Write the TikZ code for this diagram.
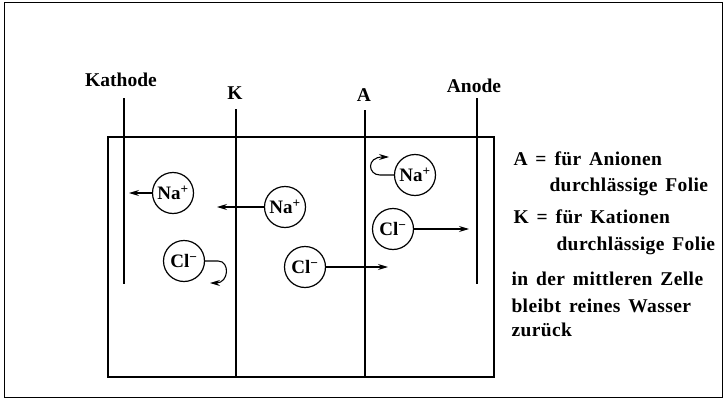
\documentclass[tikz,border=0pt]{standalone}
\usepackage{fontspec}
\setmainfont{Liberation Serif}
\newfontfamily\legendfont[LetterSpace=2,WordSpace=1.5]{Liberation Serif}
\usetikzlibrary{arrows.meta}
\begin{document}
\begin{tikzpicture}[x=1pt,y=-1pt,
  line/.style={line width=1.1pt},
  ion/.style={circle,draw,line width=1.2pt,minimum size=41pt,inner sep=0pt,font=\fontsize{19}{19}\selectfont\bfseries},
  arr/.style={line width=1.1pt,-{Stealth[length=10pt,width=6pt]}},
  lbl/.style={font=\fontsize{19.5}{19.5}\selectfont\bfseries},
  txt/.style={anchor=base west,font=\legendfont\fontsize{19.5}{19.5}\selectfont\bfseries}]
\useasboundingbox (0,0) rectangle (724,399);
\draw[line width=0.8pt] (4,2) rectangle (722,397);
% inner box
\draw[line] (108,137) rectangle (494,377);
% electrodes and membranes
\coordinate (kt) at (124,98);  \coordinate (kb) at (124,284);
\coordinate (at) at (477,98); \coordinate (ab) at (477,284);
\coordinate (mkt) at (236,109); \coordinate (mkb) at (236,377);
\coordinate (mat) at (365,110); \coordinate (mab) at (365,377);
\draw[line] (kt) -- (kb);
\draw[line] (at) -- (ab);
\draw[line] (mkt) -- (mkb);
\draw[line] (mat) -- (mab);
\node[lbl] (lk) at (121,80) {Kathode};
\node[lbl] (lmk) at (235,93) {K};
\node[lbl] (lma) at (364,95) {A};
\node[lbl] (la) at (474,86) {Anode};
% ions
\node[ion] (na1) at (173,193) {Na\textsuperscript{+}};
\node[ion] (na2) at (285,207) {Na\textsuperscript{+}};
\node[ion] (na3) at (415,175) {Na\textsuperscript{+}};
\node[ion] (cl1) at (184,261) {Cl\textsuperscript{−}};
\node[ion] (cl2) at (305,267) {Cl\textsuperscript{−}};
\node[ion] (cl3) at (393,229) {Cl\textsuperscript{−}};
\coordinate (t1) at (129,193);
\coordinate (t2) at (217,207);
\coordinate (t4) at (388,267);
\coordinate (t6) at (469,229);
\coordinate (t3) at (389,157);
\coordinate (t5) at (210,283);
\draw[arr] (na1.west) -- (t1);
\draw[arr] (na2.west) -- (t2);
\draw[arr] (cl2.east) -- (t4);
\draw[arr] (cl3.east) -- (t6);
\draw[arr] (na3.west) -- ++(-14,0) .. controls +(-12,0) and (366,157) .. (t3);
\draw[arr] (cl1.east) -- ++(13,0) .. controls +(12,0) and (229,283) .. (t5);
% legend text
\node[txt] (l1) at (510,165) {A = für Anionen};
\node[txt] (l2) at (546,191) {durchlässige Folie};
\node[txt] (l3) at (510,223) {K = für Kationen};
\node[txt] (l4) at (553,250) {durchlässige Folie};
\node[txt] (l5) at (508,285) {in der mittleren Zelle};
\node[txt] (l6) at (508,312) {bleibt reines Wasser};
\node[txt] (l7) at (508,336) {zurück};
\end{tikzpicture}
\end{document}
